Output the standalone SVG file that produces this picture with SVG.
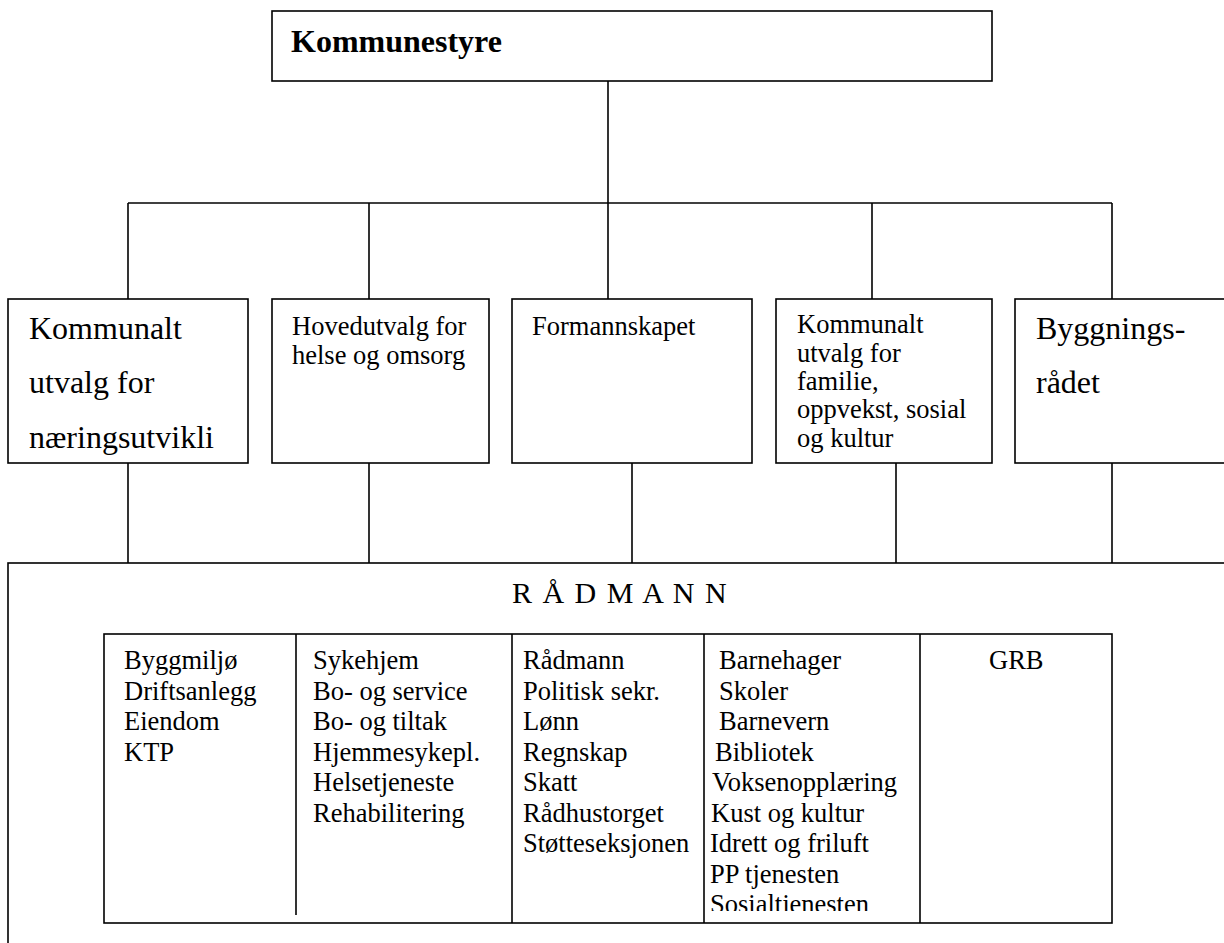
<svg xmlns="http://www.w3.org/2000/svg" width="1224" height="943" viewBox="0 0 1224 943">
<style>
  .box { fill: #ffffff; stroke: #000000; stroke-width: 1.6; }
  .ln { fill: none; stroke: #000000; stroke-width: 1.6; }
  text { font-family: "Liberation Serif", "Times New Roman", serif; fill: #000000; }
  .big { font-size: 32px; }
  .mid { font-size: 26.5px; }
  .bold { font-weight: bold; font-size: 32px; }
</style>
<defs>
  <clipPath id="col4clip"><rect x="704" y="634" width="216" height="277"/></clipPath>
</defs>
<rect width="1224" height="943" fill="#ffffff"/>

<g id="connectors">
  <line class="ln" x1="608" y1="81" x2="608" y2="299"/>
  <line class="ln" x1="128" y1="203" x2="1112" y2="203"/>
  <line class="ln" x1="128" y1="203" x2="128" y2="299"/>
  <line class="ln" x1="369" y1="203" x2="369" y2="299"/>
  <line class="ln" x1="872" y1="203" x2="872" y2="299"/>
  <line class="ln" x1="1112" y1="203" x2="1112" y2="299"/>
  <line class="ln" x1="128" y1="463" x2="128" y2="563"/>
  <line class="ln" x1="369" y1="463" x2="369" y2="563"/>
  <line class="ln" x1="632" y1="463" x2="632" y2="563"/>
  <line class="ln" x1="896" y1="463" x2="896" y2="563"/>
  <line class="ln" x1="1112" y1="463" x2="1112" y2="563"/>
</g>

<g id="kommunestyre">
  <rect class="box" x="272" y="11" width="720" height="70"/>
  <text class="bold" x="291" y="52">Kommunestyre</text>
</g>

<g id="naering">
  <rect class="box" x="8" y="299" width="240" height="164"/>
  <text class="big" x="29" y="339">Kommunalt</text>
  <text class="big" x="29" y="393">utvalg for</text>
  <text class="big" x="29" y="448">næringsutvikli</text>
</g>

<g id="helse">
  <rect class="box" x="272" y="299" width="217" height="164"/>
  <text class="mid" x="292" y="335">Hovedutvalg for</text>
  <text class="mid" x="292" y="364">helse og omsorg</text>
</g>

<g id="formannskapet">
  <rect class="box" x="512" y="299" width="240" height="164"/>
  <text class="mid" x="532" y="335">Formannskapet</text>
</g>

<g id="familie">
  <rect class="box" x="776" y="299" width="216" height="164"/>
  <text class="mid" x="797" y="333">Kommunalt</text>
  <text class="mid" x="797" y="362">utvalg for</text>
  <text class="mid" x="797" y="390">familie,</text>
  <text class="mid" x="797" y="418">oppvekst, sosial</text>
  <text class="mid" x="797" y="447">og kultur</text>
</g>

<g id="bygningsraadet">
  <rect class="box" x="1015" y="299" width="230" height="164"/>
  <text class="big" x="1036" y="339">Byggnings-</text>
  <text class="big" x="1036" y="393">rådet</text>
</g>

<g id="raadmann">
  <rect class="box" x="8" y="563" width="1240" height="400"/>
  <text x="620" y="603" font-size="30" text-anchor="middle" letter-spacing="1.5">R Å D M A N N</text>
  <rect class="box" x="104" y="634" width="1008" height="289" stroke-width="2"/>
  <line class="ln" x1="296" y1="634" x2="296" y2="915"/>
  <line class="ln" x1="512" y1="634" x2="512" y2="923"/>
  <line class="ln" x1="704" y1="634" x2="704" y2="923"/>
  <line class="ln" x1="920" y1="634" x2="920" y2="923"/>

  <g class="mid">
    <text class="mid" x="124" y="669">Byggmiljø</text>
    <text class="mid" x="124" y="699.5">Driftsanlegg</text>
    <text class="mid" x="124" y="730">Eiendom</text>
    <text class="mid" x="124" y="760.5">KTP</text>

    <text class="mid" x="313" y="669">Sykehjem</text>
    <text class="mid" x="313" y="699.5">Bo- og service</text>
    <text class="mid" x="313" y="730">Bo- og tiltak</text>
    <text class="mid" x="313" y="760.5">Hjemmesykepl.</text>
    <text class="mid" x="313" y="791">Helsetjeneste</text>
    <text class="mid" x="313" y="821.5">Rehabilitering</text>

    <text class="mid" x="523" y="669">Rådmann</text>
    <text class="mid" x="523" y="699.5">Politisk sekr.</text>
    <text class="mid" x="523" y="730">Lønn</text>
    <text class="mid" x="523" y="760.5">Regnskap</text>
    <text class="mid" x="523" y="791">Skatt</text>
    <text class="mid" x="523" y="821.5">Rådhustorget</text>
    <text class="mid" x="523" y="852">Støtteseksjonen</text>

    <g clip-path="url(#col4clip)">
      <text class="mid" x="719" y="669">Barnehager</text>
      <text class="mid" x="719" y="699.5">Skoler</text>
      <text class="mid" x="719" y="730">Barnevern</text>
      <text class="mid" x="715" y="760.5">Bibliotek</text>
      <text class="mid" x="712" y="791">Voksenopplæring</text>
      <text class="mid" x="711" y="821.5">Kust og kultur</text>
      <text class="mid" x="710" y="852">Idrett og friluft</text>
      <text class="mid" x="710" y="882.5">PP tjenesten</text>
      <text class="mid" x="710" y="913">Sosialtjenesten</text>
    </g>

    <text class="mid" x="989" y="669">GRB</text>
  </g>
</g>
</svg>
